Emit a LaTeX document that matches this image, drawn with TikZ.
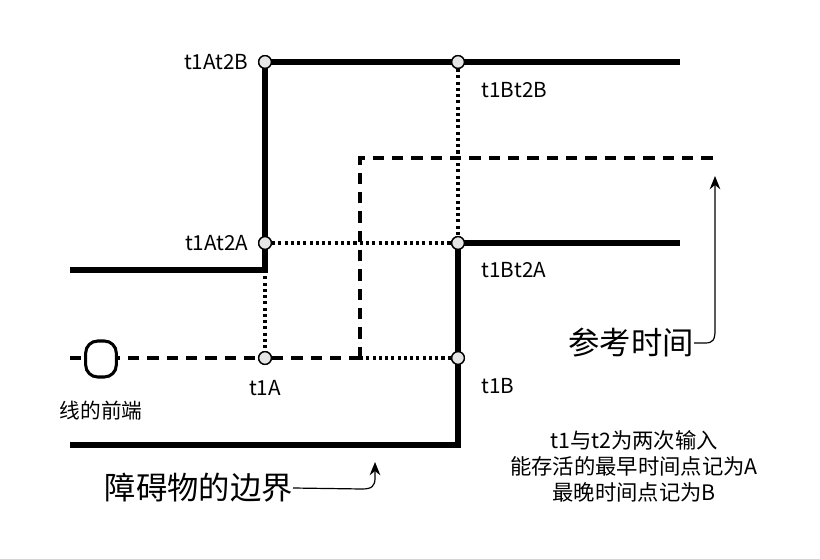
\documentclass[tikz,border=0pt]{standalone}
\usepackage{fontspec}
\setmainfont{Noto Sans CJK SC}
\usetikzlibrary{arrows.meta}
\begin{document}
\begin{tikzpicture}[x=0.75pt,y=-0.75pt,
  thickline/.style={line width=3.8pt},
  dashline/.style={line width=2.3pt,dash pattern=on 8.5pt off 6pt},
  dotline/.style={line width=2.3pt,dash pattern=on 2.3pt off 2.4pt},
  pt/.style={circle,draw=black,line width=1pt,fill=black!10,minimum size=9.5pt,inner sep=0pt},
  lbl/.style={font=\fontsize{15.5}{18}\selectfont,inner sep=1pt},
  note/.style={font=\fontsize{16}{19.5}\selectfont,align=center,inner sep=0pt},
  big/.style={inner sep=0pt},
  curvearrow/.style={line width=0.9pt,-{Stealth[length=10pt,width=8pt]}}]
\useasboundingbox (0,0) rectangle (820,559);
% coordinates
\coordinate (LA) at (70,270);
\coordinate (CA) at (265,270);
\coordinate (RB) at (680,62);
\coordinate (RA) at (680,243);
\coordinate (LB) at (70,445);
\coordinate (CB) at (458,445);
\coordinate (D0) at (70,358);
\coordinate (D1) at (360,358);
\coordinate (D2) at (360,158);
\coordinate (D3) at (720,158);
% points
\node[pt] (p1) at (265,62) {};
\node[pt] (p2) at (458,62) {};
\node[pt] (p3) at (265,243) {};
\node[pt] (p4) at (458,243) {};
\node[pt] (p5) at (265,358) {};
\node[pt] (p6) at (458,358) {};
% thick lines
\draw[thickline] (LA) -- (CA) -- (p1.center) -- (p2.center) -- (RB);
\draw[thickline] (LB) -- (CB) -- (p6.center) -- (p4.center) -- (RA);
% dotted
\draw[dotline] (p2) -- (p4);
\draw[dotline] (p3) -- (p4);
\draw[dotline] (CA) -- (p5);
\draw[dotline] (D1) -- (p6);
% dashed
\draw[dashline] (D0) -- (p5) -- (D1);
\draw[dashline] (D1) -- (D2) -- (D3);
% line front shape
\node[draw=black,line width=2.3pt,fill=white,rounded corners=9pt,minimum width=23pt,minimum height=27pt,inner sep=0pt] (front) at (101,359) {};
\node[pt] at (265,62) {};
\node[pt] at (458,62) {};
\node[pt] at (265,243) {};
\node[pt] at (458,243) {};
\node[pt] at (265,358) {};
\node[pt] at (458,358) {};
% labels
\node[lbl,anchor=east] (l1) at (250,62) {t1At2B};
\node[lbl,anchor=east] (l2) at (250,243) {t1At2A};
\node[lbl,anchor=west] (l3) at (480,90) {t1Bt2B};
\node[lbl,anchor=west] (l4) at (480,270) {t1Bt2A};
\node[lbl] (l5) at (265,388) {t1A};
\node[lbl,anchor=west] (l6) at (480,386) {t1B};
\node[lbl] (l7) at (101,411) {线的前端};
\node[note] (n1) at (634,466) {t1与t2为两次输入\\能存活的最早时间点记为A\\最晚时间点记为B};
% big labels
\node[big,font=\fontsize{23.5}{28}\selectfont,anchor=east] (ref) at (694,343) {参考时间};
\node[big,font=\fontsize{23.5}{28}\selectfont,anchor=east] (obs) at (293,488) {障碍物的边界};
\coordinate (refTip) at (715,176);
\coordinate (obsTip) at (375,462);
\draw[curvearrow] (ref.east) -- (705,343) .. controls (713,343) and (715,340) .. (715,330) -- (refTip);
\draw[curvearrow] (obs.east) -- (362,489) .. controls (372,489) and (375,486) .. (375,478) -- (obsTip);
\end{tikzpicture}
\end{document}
